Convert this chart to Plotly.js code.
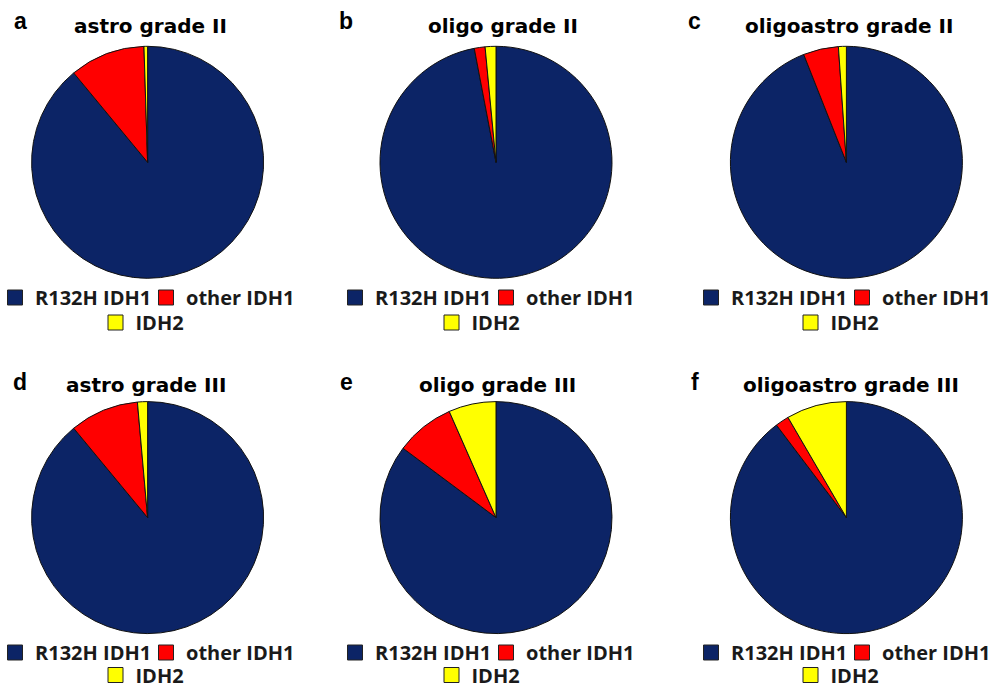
<!DOCTYPE html>
<html>
<head>
<meta charset="utf-8">
<script src="https://cdn.plot.ly/plotly-3.0.1.min.js"></script>
<style>html,body{margin:0;padding:0;background:#fff;}#chart{width:989px;height:692px;}</style>
</head>
<body>
<div id="chart"></div>
<script>
// ---- data (percent of cases) ----
const mutationLabels = ["R132H IDH1", "other IDH1", "IDH2"];
const panelLetters = ["a", "b", "c", "d", "e", "f"];
const panelTitles = ["astro grade II", "oligo grade II", "oligoastro grade II",
                     "astro grade III", "oligo grade III", "oligoastro grade III"];
const astroII      = [89.0, 10.5, 0.5];
const oligoII      = [97.0, 1.5, 1.5];
const oligoastroII = [94.0, 4.9, 1.1];
const astroIII     = [89.0, 9.6, 1.4];
const oligoIII     = [85.2, 8.2, 6.6];
const oligoastroIII= [89.7, 1.9, 8.4];
const panelValues = [astroII, oligoII, oligoastroII, astroIII, oligoIII, oligoastroIII];
const sliceColors = ["#0c2466", "#ff0000", "#ffff00"];

// ---- layout geometry (pixels) ----
const W = 989, H = 692;
const colX = [147.6, 496, 846.4];
const rowY = [162.3, 517.6];
const R = 116;
const titleY = [26, 384.5];
const letterY = [21, 382];
const legRow1Y = [297.5, 652.5];
const legRow2Y = [322.5, 675];
const letterX = [20, 346, 694.5];
const titleXs = [150.2, 502.7, 848.8, 145.8, 497.8, 850.8];
const leg1Left = [-5, 335, 691];   // legend box left edges (text starts 40px further)
const leg2Left = [95.5, 431.5, 790.5];

const px = x => x / W, py = y => 1 - y / H;

const data = [];
const layout = {
  width: W, height: H,
  margin: {l: 0, r: 0, t: 0, b: 0, autoexpand: false},
  paper_bgcolor: "#ffffff", plot_bgcolor: "#ffffff",
  xaxis: {visible: false}, yaxis: {visible: false},
  annotations: []
};

const legendFont = {family: "Open Sans", size: 20, weight: 700, color: "#1a1a1a"};

panelValues.forEach((vals, i) => {
  const c = i % 3, r = Math.floor(i / 3);
  const cx = colX[c], cy = rowY[r];
  data.push({
    type: "pie",
    labels: mutationLabels,
    values: vals,
    sort: false,
    direction: "clockwise",
    rotation: 0,
    textinfo: "none",
    hoverinfo: "label+percent",
    showlegend: false,
    marker: {colors: sliceColors, line: {color: "#111111", width: 1}},
    domain: {x: [px(cx - R), px(cx + R)], y: [py(cy + R), py(cy - R)]}
  });
  const key1 = i === 0 ? "legend" : "legend" + (i * 2 + 1);
  const key2 = "legend" + (i * 2 + 2);
  mutationLabels.forEach((lab, k) => {
    data.push({
      type: "scatter", mode: "markers", x: [null], y: [null],
      name: lab, showlegend: true, hoverinfo: "skip",
      legend: k < 2 ? key1 : key2,
      marker: {symbol: "square", size: 15, color: sliceColors[k], line: {color: "#222222", width: 1}}
    });
  });
  layout[key1] = {
    orientation: "h", x: px(leg1Left[c]), y: py(legRow1Y[r]), xanchor: "left", yanchor: "middle",
    entrywidth: 106, entrywidthmode: "pixels",
    bgcolor: "rgba(0,0,0,0)", font: legendFont, itemclick: false, itemdoubleclick: false
  };
  layout[key2] = {
    orientation: "h", x: px(leg2Left[c]), y: py(legRow2Y[r]), xanchor: "left", yanchor: "middle",
    bgcolor: "rgba(0,0,0,0)", font: legendFont, itemclick: false, itemdoubleclick: false
  };
  layout.annotations.push({
    text: "<b>" + panelTitles[i] + "</b>", xref: "paper", yref: "paper",
    x: px(titleXs[i]), y: py(titleY[r]), xanchor: "center", yanchor: "middle",
    showarrow: false, font: {family: "DejaVu Sans", size: 20, color: "#000000"}
  });
  layout.annotations.push({
    text: "<b>" + panelLetters[i] + "</b>", xref: "paper", yref: "paper",
    x: px(letterX[c]), y: py(letterY[r]), xanchor: "center", yanchor: "middle",
    showarrow: false, font: {family: "Liberation Sans", size: 23, color: "#000000"}
  });
});

Plotly.newPlot("chart", data, layout, {displayModeBar: false});
</script>
</body>
</html>
